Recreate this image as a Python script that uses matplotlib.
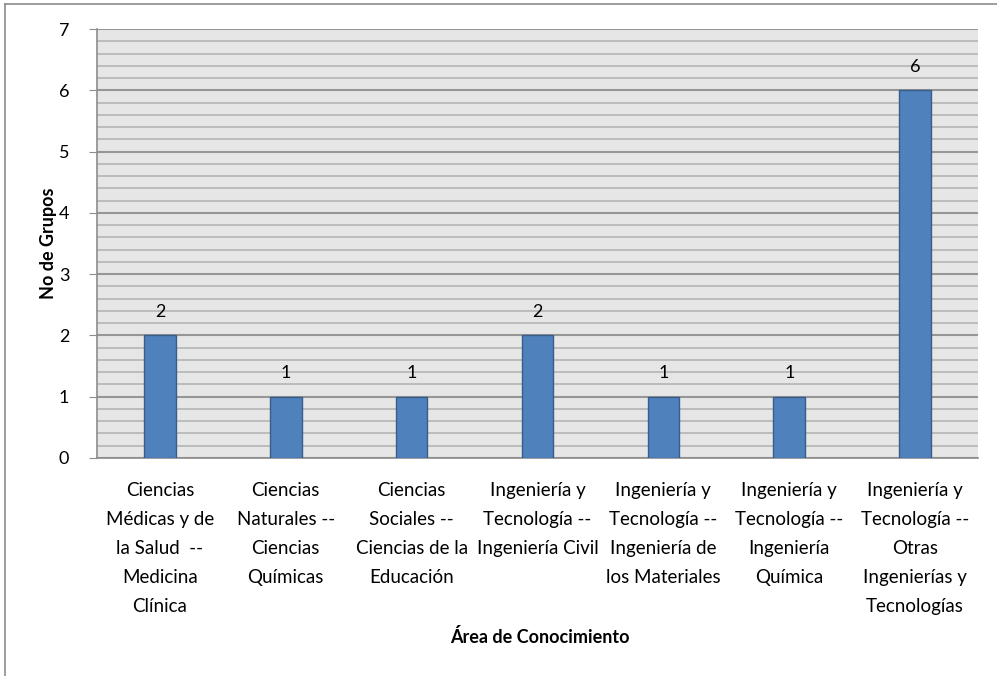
import matplotlib
matplotlib.use("Agg")
import matplotlib.pyplot as plt
from matplotlib.lines import Line2D
from matplotlib.ticker import MultipleLocator

categories = [
    "Ciencias\nMédicas y de\nla Salud  --\nMedicina\nClínica",
    "Ciencias\nNaturales --\nCiencias\nQuímicas",
    "Ciencias\nSociales --\nCiencias de la\nEducación",
    "Ingeniería y\nTecnología --\nIngeniería Civil",
    "Ingeniería y\nTecnología --\nIngeniería de\nlos Materiales",
    "Ingeniería y\nTecnología --\nIngeniería\nQuímica",
    "Ingeniería y\nTecnología --\nOtras\nIngenierías y\nTecnologías",
]
values = [2, 1, 1, 2, 1, 1, 6]

plt.rcParams['font.family'] = ['Lato', 'DejaVu Sans']

W, H = 997, 676
fig = plt.figure(figsize=(W / 100, H / 100), dpi=100)
ax = fig.add_axes([97 / W, (H - 458) / H, 881 / W, 429 / H])

x = list(range(len(values)))
bars = ax.bar(x, values, width=0.25, color='#4f81bd', edgecolor='#385d8a',
              linewidth=1, zorder=3)
for xi, v in zip(x, values):
    ax.annotate(str(v), (xi, v), xytext=(0, 11), textcoords='offset points',
                ha='center', va='bottom', fontsize=13)

ax.set_xlim(-0.5, len(values) - 0.5)
ax.set_ylim(0, 7)
ax.set_facecolor('#e6e6e6')
ax.yaxis.set_major_locator(MultipleLocator(1))
ax.yaxis.set_minor_locator(MultipleLocator(0.2))
ax.grid(which='major', axis='y', color='#969696', linewidth=1.5, zorder=1)
ax.grid(which='minor', axis='y', color='#b4b4b4', linewidth=1.2, zorder=1)
ax.tick_params(axis='y', which='major', length=6, color='#8c8c8c', labelsize=13, pad=14)
ax.tick_params(axis='y', which='minor', length=0)
ax.tick_params(axis='x', length=0, pad=17, labelsize=13.5)
ax.set_xticks(x)
ax.set_xticklabels(categories, linespacing=1.87, va='top')

for s in ['top', 'right']:
    ax.spines[s].set_visible(False)
for s in ['left', 'bottom']:
    ax.spines[s].set_color('#8c8c8c')
    ax.spines[s].set_linewidth(1.2)

ax.set_ylabel("No de Grupos", fontsize=13, fontweight='bold', labelpad=1)
fig.text(540 / W, 1 - 637 / H, "Área de Conocimiento", fontsize=13,
         fontweight='bold', ha='center', va='center')

# chart frame edges
fig.add_artist(Line2D([5 / W, 1], [1 - 4 / H, 1 - 4 / H], color='#8c8c8c', linewidth=1.2))
fig.add_artist(Line2D([5 / W, 5 / W], [0, 1 - 4 / H], color='#8c8c8c', linewidth=1.2))

fig.savefig("out.png", dpi=100)
